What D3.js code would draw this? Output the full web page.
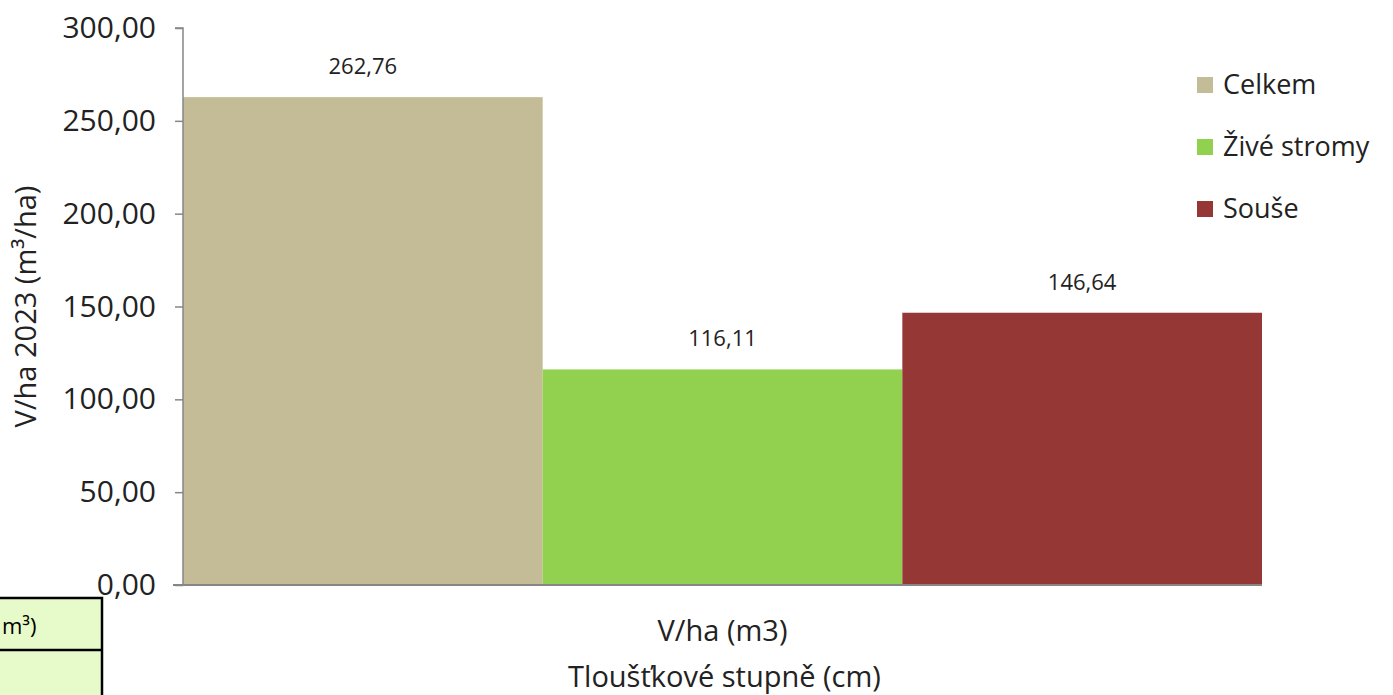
<!DOCTYPE html>
<html><head><meta charset="utf-8">
<script src="https://cdn.jsdelivr.net/npm/d3@7"></script>
<style>html,body{margin:0;padding:0;background:#fff;overflow:hidden}</style>
</head><body>
<svg id="c" width="1393" height="695"></svg>
<script>
const categories = ["V/ha (m3)"];
const seriesNames = ["Celkem", "Živé stromy", "Souše"];
const seriesValues = [262.76, 116.11, 146.64];
const seriesColors = ["#c4bc96", "#92d050", "#953735"];
const yTicks = [0, 50, 100, 150, 200, 250, 300];
const yTitle = "V/ha 2023 (m³/ha)";
const xTitle = "Tloušťkové stupně (cm)";

const svg = d3.select("#c");
const font = "'Open Sans', sans-serif";
const m = {left: 183, right: 1262, top: 28, bottom: 585};
const fmt = v => d3.format(".2f")(v).replace(".", ",");

const y = d3.scaleLinear().domain([0, 300]).range([m.bottom, m.top]);
const x0 = d3.scaleBand().domain(categories).range([m.left, m.right]).padding(0);
const x1 = d3.scaleBand().domain(seriesNames).range([0, x0.bandwidth()]).padding(0);

// bars
const g = svg.append("g");
categories.forEach(cat => {
  seriesNames.forEach((s, i) => {
    const bx = x0(cat) + x1(s);
    g.append("rect").attr("x", bx).attr("y", y(seriesValues[i]))
      .attr("width", x1.bandwidth()).attr("height", y(0) - y(seriesValues[i]))
      .attr("fill", seriesColors[i]);
    g.append("text").attr("x", bx + x1.bandwidth() / 2).attr("y", y(seriesValues[i]) - 23)
      .attr("text-anchor", "middle").attr("font-family", font).attr("font-size", 22)
      .attr("fill", "#222").text(fmt(seriesValues[i]));
  });
});

// y axis
const ya = svg.append("g").attr("transform", `translate(${m.left},0)`)
  .call(d3.axisLeft(y).tickValues(yTicks).tickSize(8).tickPadding(19).tickFormat(fmt));
ya.selectAll("path,line").attr("stroke", "#868686").attr("stroke-width", 1.5);
ya.select(".domain").attr("d", `M-8,${m.top}H0V${m.bottom}`);
ya.selectAll("text").attr("font-family", font).attr("font-size", 30).attr("fill", "#222");

// x axis
const xa = svg.append("g").attr("transform", `translate(0,${m.bottom})`)
  .call(d3.axisBottom(x0).tickSize(0).tickPadding(35));
xa.select(".domain").attr("d", `M${m.left - 10},0H${m.right}`).attr("stroke", "#868686").attr("stroke-width", 2);
xa.selectAll("text").attr("font-family", font).attr("font-size", 29).attr("fill", "#222");

// axis titles
svg.append("text").attr("transform", `translate(36,${(m.top + m.bottom) / 2}) rotate(-90)`)
  .attr("text-anchor", "middle").attr("font-family", font).attr("font-size", 29).attr("fill", "#222")
  .text(yTitle);
svg.append("text").attr("x", (m.left + m.right) / 2 + 2).attr("y", 687)
  .attr("text-anchor", "middle").attr("font-family", font).attr("font-size", 29).attr("fill", "#222")
  .text(xTitle);

// legend
const lg = svg.append("g").attr("transform", "translate(1197,85)");
seriesNames.forEach((s, i) => {
  const r = lg.append("g").attr("transform", `translate(0,${i * 62})`);
  r.append("rect").attr("x", 0).attr("y", -8).attr("width", 16).attr("height", 16).attr("fill", seriesColors[i]);
  r.append("text").attr("x", 26).attr("y", 0).attr("dy", "0.35em").attr("font-family", font)
    .attr("font-size", 27).attr("fill", "#222").text(s);
});

// table fragment at bottom-left
svg.append("rect").attr("x", -5).attr("y", 598).attr("width", 107).attr("height", 110)
  .attr("fill", "#e6fbc9").attr("stroke", "#000").attr("stroke-width", 2.5);
svg.append("line").attr("x1", -5).attr("x2", 102).attr("y1", 650).attr("y2", 650)
  .attr("stroke", "#000").attr("stroke-width", 2.5);
svg.append("text").attr("x", 2).attr("y", 634).attr("text-anchor", "start")
  .attr("font-family", font).attr("font-size", 22).attr("fill", "#000").text("m³)");
</script>
</body></html>
